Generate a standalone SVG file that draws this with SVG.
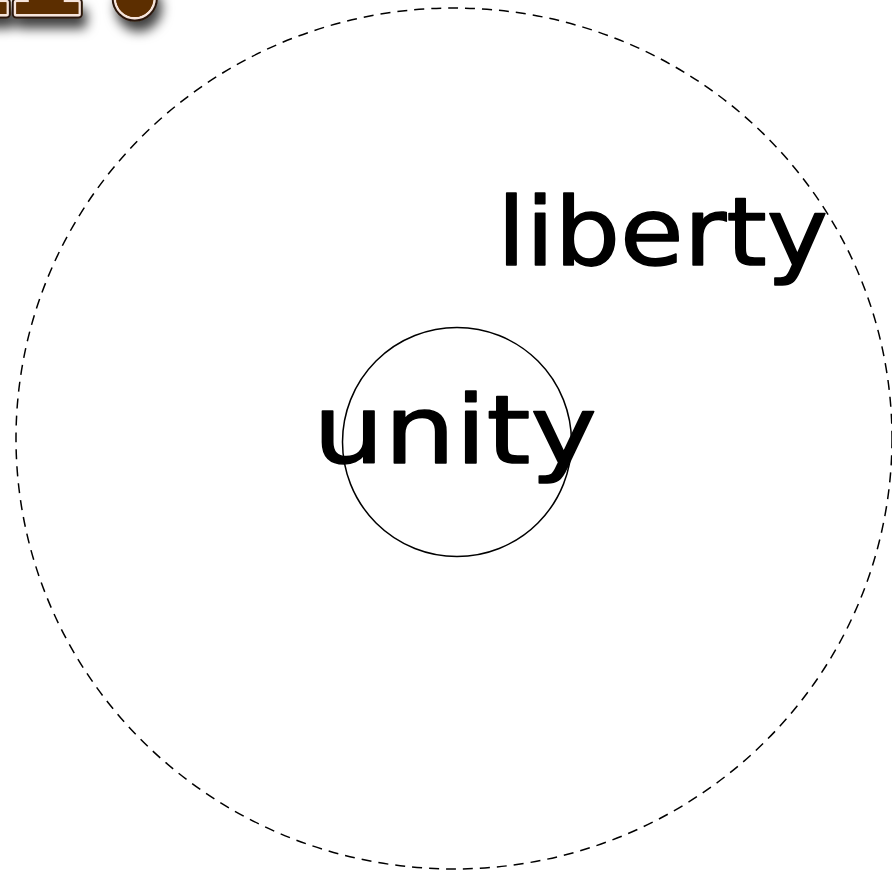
<svg xmlns="http://www.w3.org/2000/svg" width="892" height="873" viewBox="0 0 892 873">
<defs>
<filter id="shadow" x="-20%" y="-20%" width="140%" height="160%">
<feDropShadow dx="4" dy="10" stdDeviation="6" flood-color="#000" flood-opacity="0.75"/>
</filter>
</defs>
<style>
.hand{font-family:"DejaVu Sans",sans-serif;font-size:94px;fill:#000;stroke:#000;stroke-width:1.5;stroke-linejoin:round}
.title{font-family:"DejaVu Serif",serif;font-weight:bold;font-size:200px}
</style>
<rect width="892" height="873" fill="#fff"/>
<g id="title">
<text class="title" x="200" y="14" text-anchor="end" fill="#000" stroke="#2a1608" stroke-width="9" stroke-linejoin="round" filter="url(#shadow)">n?</text>
<text class="title" x="200" y="14" text-anchor="end" fill="#5c2e00" stroke="#f6e4da" stroke-width="5" stroke-linejoin="round" paint-order="stroke">n?</text>
<text class="title" x="200" y="14" text-anchor="end" fill="#5c2e00">n?</text>
</g>
<g id="liberty">
<ellipse cx="454" cy="438.5" rx="438" ry="430.5" fill="none" stroke="#000" stroke-width="1.5" stroke-dasharray="10,7"/>
<text class="hand" x="497" y="265" textLength="331" lengthAdjust="spacingAndGlyphs">liberty</text>
</g>
<g id="unity">
<circle cx="457" cy="442" r="114.5" fill="none" stroke="#000" stroke-width="1.5"/>
<text class="hand" x="313" y="463" textLength="284" lengthAdjust="spacingAndGlyphs">unity</text>
</g>
<g id="connectors"/>
</svg>
